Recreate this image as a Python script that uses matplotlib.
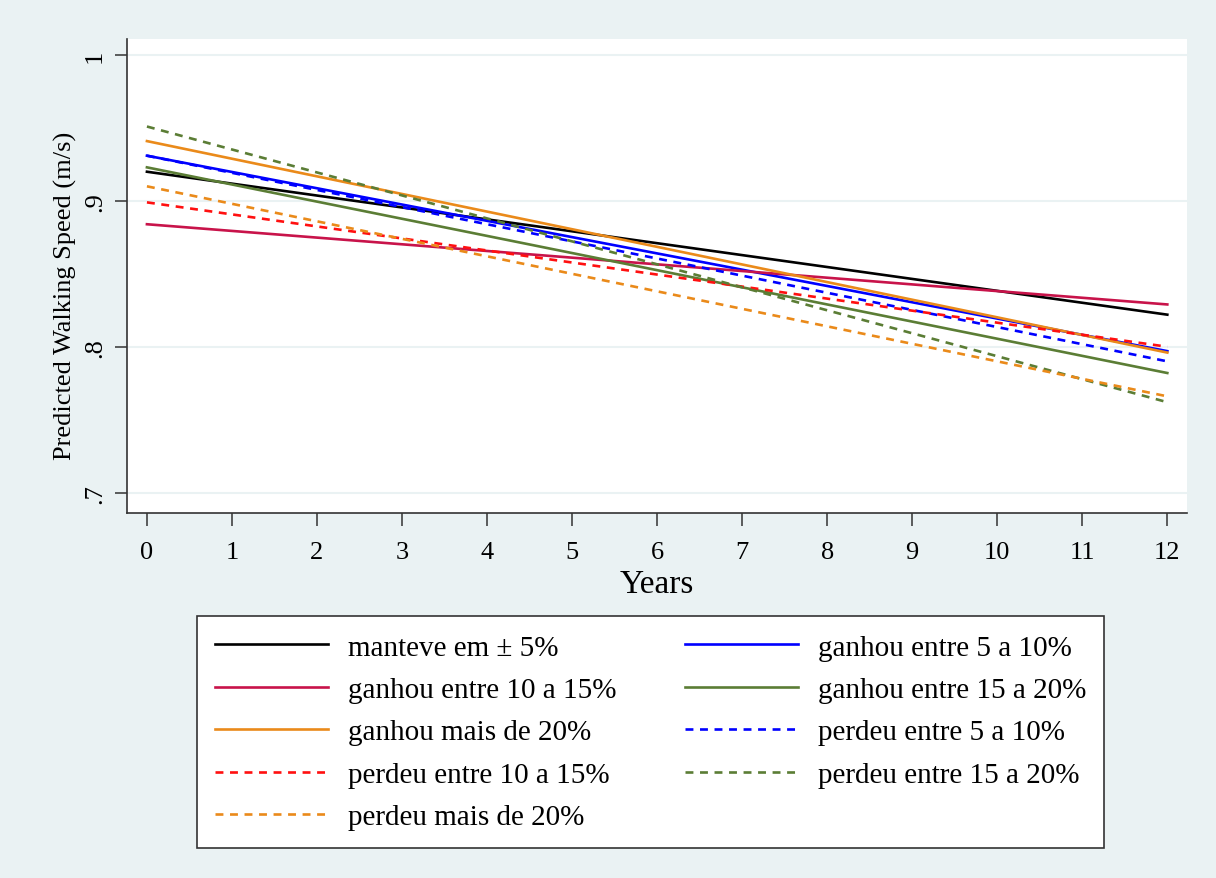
import matplotlib
matplotlib.use("Agg")
import matplotlib.pyplot as plt
import numpy as np

# predicted walking speed at year 0 and year 12 (linear fits)
years = [0, 12]
labels = ["manteve em ± 5%", "ganhou entre 5 a 10%", "ganhou entre 10 a 15%",
          "ganhou entre 15 a 20%", "ganhou mais de 20%", "perdeu entre 5 a 10%",
          "perdeu entre 10 a 15%", "perdeu entre 15 a 20%", "perdeu mais de 20%"]
manteve = [0.920, 0.822]
ganhou_5_10 = [0.931, 0.797]
ganhou_10_15 = [0.884, 0.829]
ganhou_15_20 = [0.923, 0.782]
ganhou_20 = [0.941, 0.796]
perdeu_5_10 = [0.931, 0.790]
perdeu_10_15 = [0.899, 0.800]
perdeu_15_20 = [0.951, 0.762]
perdeu_20 = [0.910, 0.766]
series = [manteve, ganhou_5_10, ganhou_10_15, ganhou_15_20, ganhou_20,
          perdeu_5_10, perdeu_10_15, perdeu_15_20, perdeu_20]

colors = ["black", "#0000ff", "#c8134a", "#5b7d35", "#ea8a1a",
          "#0000ff", "#ff1010", "#5b7d35", "#ea8a1a"]
dashed = [False] * 5 + [True] * 4

plt.rcParams["font.family"] = ["Liberation Serif", "DejaVu Serif"]
BG = "#eaf2f3"

fig = plt.figure(figsize=(12.16, 8.79), dpi=100, facecolor=BG)
ax = fig.add_axes([0.1044, 0.4152, 0.872, 0.5393])
ax.set_facecolor("white")

handles = []
for vals, c, d, lab in zip(series, colors, dashed, labels):
    h, = ax.plot(years, vals, color=c, linewidth=1.9, label=lab)
    if d:
        h.set_dashes((3, 2.5))
    handles.append(h)

ax.set_xlim(-0.235, 12.235)
ax.set_ylim(0.686, 1.011)
ax.set_xticks(np.arange(0, 13))
ax.set_yticks([0.7, 0.8, 0.9, 1.0])
ax.set_yticklabels([".7", ".8", ".9", "1"], rotation=90, va="center")
ax.yaxis.grid(True, color=BG, linewidth=1.5)
ax.set_axisbelow(True)
for s in ["top", "right"]:
    ax.spines[s].set_visible(False)
for s in ["left", "bottom"]:
    ax.spines[s].set_color("#333333")
    ax.spines[s].set_linewidth(1.2)
ax.tick_params(direction="out", length=9, width=1.1, color="#333333",
               labelsize=19, pad=6)
ax.tick_params(axis="x", pad=11)
ax.set_xlabel("Years", fontsize=24, labelpad=4)
ax.set_ylabel("Predicted Walking Speed (m/s)", fontsize=19)
ax.yaxis.set_label_coords(-0.047, 0.46)

# row-major legend order -> column-first for matplotlib
order = [0, 2, 4, 6, 8, 1, 3, 5, 7]
leg = fig.legend([handles[i] for i in order], [labels[i] for i in order],
                 ncol=2, loc="upper left", bbox_to_anchor=(0.162, 0.298),
                 fontsize=21, frameon=True, fancybox=False, framealpha=1,
                 facecolor="white", edgecolor="#333333", handlelength=3.87,
                 handletextpad=0.68, borderaxespad=0, labelspacing=0.55,
                 borderpad=0.62, columnspacing=2.35)
leg.get_frame().set_linewidth(1.2)

fig.savefig("out.png", dpi=100, facecolor=BG)
